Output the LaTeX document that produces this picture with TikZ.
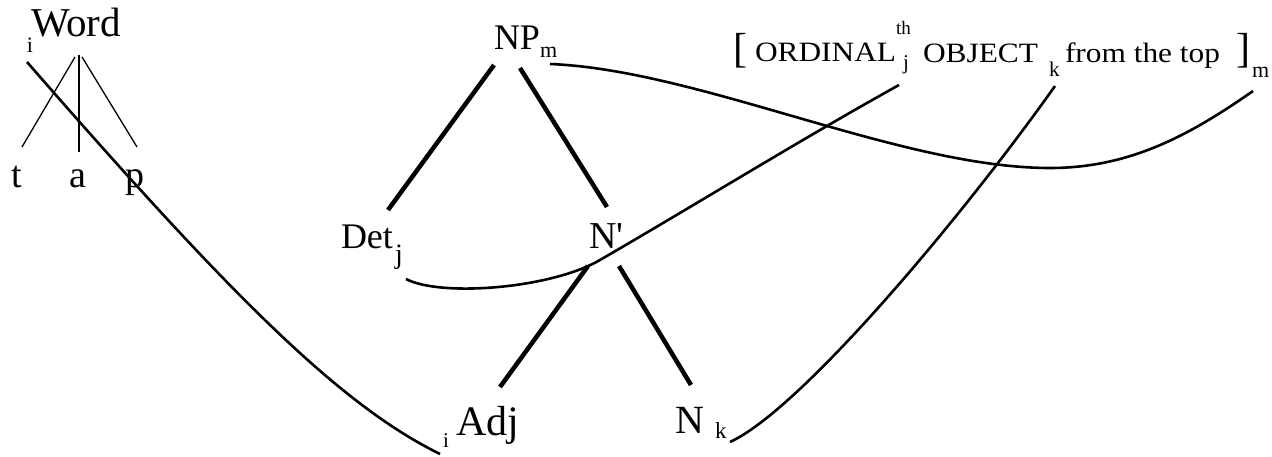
\documentclass[tikz,border=0pt]{standalone}
\usepackage{fontspec}
\newfontfamily\serf{Liberation Serif}
\newcommand\fs[1]{\fontsize{#1}{#1}\selectfont}
\newcommand\widen[1]{\scalebox{1.12}[1]{#1}}
\begin{document}
\begin{tikzpicture}[x=1pt,y=-1pt,
  lbl/.style={inner sep=0pt, outer sep=0pt, anchor=base west, font=\serf},
  thinedge/.style={line width=1.3pt},
  treeedge/.style={line width=4.5pt},
  link/.style={line width=2.6pt}]
\useasboundingbox (0,0) rectangle (1272,457);
% Word tree
\node[lbl] (wi) at (27,53) {\fs{22}i};
\node[lbl] (word) at (31,37) {\fs{41}Word};
\node[lbl] (t) at (12,188) {\fs{38}t};
\node[lbl] (a) at (69,188) {\fs{38}a};
\node[lbl] (p) at (125,188) {\fs{38}p};
\coordinate (w1) at (75,57); \coordinate (w2) at (79,55); \coordinate (w3) at (82,57);
\coordinate (t1) at (22,147); \coordinate (a1) at (79,152); \coordinate (p1) at (137,147);
\draw[thinedge] (w1) -- (t1);
\draw[thinedge] (w2) -- (a1);
\draw[thinedge] (w3) -- (p1);
% NP tree
\node[lbl] (np) at (494,50) {\fs{36}NP};
\node[lbl] (npm) at (540,58) {\fs{22}m};
\node[lbl] (det) at (341,248) {\fs{36}Det};
\node[lbl] (detj) at (395,264) {\fs{28}j};
\node[lbl] (nbar) at (589,249) {\fs{38}N'};
\node[lbl] (adji) at (443,447) {\fs{21}i};
\node[lbl] (adj) at (456,435) {\fs{42}Adj};
\node[lbl] (n) at (675,433) {\fs{40}N};
\node[lbl] (nk) at (715,438) {\fs{23}k};
\coordinate (np-l) at (494,65); \coordinate (det-t) at (388,210);
\coordinate (np-r) at (520,68); \coordinate (nbar-t) at (607,207);
\coordinate (nbar-l) at (588,266); \coordinate (adj-t) at (500,387);
\coordinate (nbar-r) at (619,266); \coordinate (n-t) at (691,385);
\draw[treeedge] (np-l) -- (det-t);
\draw[treeedge] (np-r) -- (nbar-t);
\draw[treeedge] (nbar-l) -- (adj-t);
\draw[treeedge] (nbar-r) -- (n-t);
% bracketed phrase
\node[lbl] (lb) at (733,63) {\fs{42}[};
\node[lbl] (ord) at (755,62) {\widen{\fs{28}ORDINAL}};
\node[lbl] (th) at (896,35) {\fs{19}th};
\node[lbl] (ordj) at (903,70) {\fs{21}j};
\node[lbl] (obj) at (923,63) {\widen{\fs{28}OBJECT}};
\node[lbl] (objk) at (1049,77) {\fs{21}k};
\node[lbl] (ftt) at (1065,63) {\widen{\fs{28}from the top}};
\node[lbl] (rb) at (1236,63) {\fs{42}]};
\node[lbl] (rbm) at (1252,78) {\fs{22}m};
% link curves
\coordinate (wi-e) at (27,62); \coordinate (adji-e) at (440,454);
\coordinate (npm-e) at (550,64); \coordinate (mid-m) at (1050,168); \coordinate (rbm-e) at (1253,91);
\coordinate (detj-e) at (406,279); \coordinate (mid-j) at (600,260); \coordinate (ordj-e) at (899,85);
\coordinate (nk-e) at (730,442); \coordinate (objk-e) at (1055,86);
\draw[link] (wi-e) .. controls (230,295) and (340,405) .. (adji-e);
\draw[link] (npm-e) .. controls (700,70) and (900,168) .. (mid-m) .. controls (1130,168) and (1190,135) .. (rbm-e);
\draw[link] (detj-e) .. controls (440,297) and (550,289) .. (mid-j) .. controls (700,202) and (800,140) .. (ordj-e);
\draw[link] (nk-e) .. controls (800,410) and (960,220) .. (objk-e);
\end{tikzpicture}
\end{document}
